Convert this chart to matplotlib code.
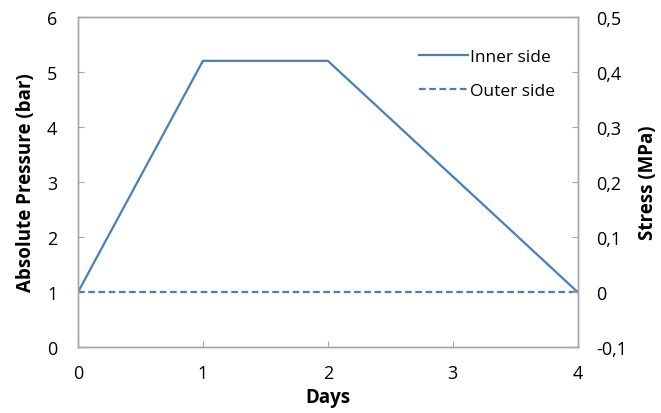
import matplotlib.pyplot as plt
from matplotlib.ticker import FuncFormatter

# pressure history over the test (bar)
days = [0, 1, 2, 4]
inner_side = [1, 5.2, 5.2, 1]
outer_days = [0, 4]
outer_side = [1, 1]

plt.rcParams['font.family'] = ['Open Sans', 'DejaVu Sans']
blue = "#4a7ebb"
grey = "#a6a6a6"

fig = plt.figure(figsize=(6.61, 4.14), dpi=100)
ax = fig.add_axes([0.118, 0.159, 0.756, 0.798])

ax.plot(days, inner_side, color=blue, lw=1.6, label="Inner side")
ax.plot(outer_days, outer_side, color=blue, lw=1.6, ls=(0, (3, 1.6)), label="Outer side")

ax.set_xlim(0, 4)
ax.set_ylim(0, 6)
ax.set_xticks([0, 1, 2, 3, 4])
ax.set_yticks(range(0, 7))
ax.set_xlabel("Days", fontsize=13.5, fontweight="bold", labelpad=4)
ax.set_ylabel("Absolute Pressure (bar)", fontsize=13.5, fontweight="bold", labelpad=8)

# stress axis: 1 bar gauge -> 0 MPa
ax2 = ax.twinx()
ax2.set_ylim(-0.1, 0.5)
ax2.set_yticks([-0.1, 0, 0.1, 0.2, 0.3, 0.4, 0.5])
ax2.yaxis.set_major_formatter(FuncFormatter(lambda v, p: "0" if abs(v) < 1e-9 else f"{v:.1f}".replace(".", ",")))
ax2.set_ylabel("Stress (MPa)", fontsize=13.5, fontweight="bold", labelpad=8)

for a in (ax, ax2):
    for s in a.spines.values():
        s.set_color(grey)
        s.set_linewidth(1.0)
    a.tick_params(direction="in", length=4, color=grey, labelsize=13)
ax.tick_params(axis="y", pad=15)
ax2.tick_params(axis="y", pad=13)
ax.tick_params(axis="x", pad=12)

leg = ax.legend(loc="upper right", bbox_to_anchor=(0.985, 0.95), frameon=False,
                fontsize=12.5, handlelength=2.8, handletextpad=0.1, labelspacing=1.0)

fig.savefig("out.png", dpi=100)
